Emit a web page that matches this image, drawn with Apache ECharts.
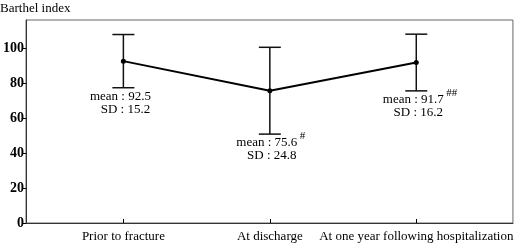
<!DOCTYPE html>
<html>
<head>
<meta charset="utf-8">
<script src="https://cdn.jsdelivr.net/npm/echarts@6/dist/echarts.min.js"></script>
<style>
html, body { margin: 0; padding: 0; background: #fff; }
#main { width: 516px; height: 244px; }
</style>
</head>
<body>
<div id="main"></div>
<script>
var categories = ['Prior to fracture', 'At discharge', 'At one year following hospitalization'];
var positions = [1, 2, 3];
var means = [92.5, 75.6, 91.7];
var sds = [15.2, 24.8, 16.2];
var marks = ['', '#', '##'];
var yTicks = [0, 20, 40, 60, 80, 100];

var dom = document.getElementById('main');
var myChart = echarts.init(dom);
var font = '"Liberation Serif", "DejaVu Serif", serif';

var barData = positions.map(function (p, i) {
  return [p, means[i], sds[i], i];
});

function renderBar(params, api) {
  var x = api.value(0), m = api.value(1), sd = api.value(2), i = api.value(3);
  var top = api.coord([x, m + sd]);
  var bot = api.coord([x, m - sd]);
  var half = 11;
  var stroke = { stroke: '#111', lineWidth: 1.5 };
  var kids = [
    { type: 'line', shape: { x1: top[0], y1: top[1], x2: bot[0], y2: bot[1] }, style: stroke },
    { type: 'line', shape: { x1: top[0] - half, y1: top[1], x2: top[0] + half, y2: top[1] }, style: stroke },
    { type: 'line', shape: { x1: bot[0] - half, y1: bot[1], x2: bot[0] + half, y2: bot[1] }, style: stroke },
    { type: 'text', x: bot[0] - 3, y: bot[1] + 2,
      style: { text: 'mean : ' + m.toFixed(1), font: '13px ' + font, fill: '#000', textAlign: 'center', textVerticalAlign: 'top' } },
    { type: 'text', x: bot[0] + 2, y: bot[1] + 15,
      style: { text: 'SD : ' + sd.toFixed(1), font: '13px ' + font, fill: '#000', textAlign: 'center', textVerticalAlign: 'top' } }
  ];
  if (marks[i]) {
    kids.push({ type: 'text', x: bot[0] + 30, y: bot[1] - 3,
      style: { text: marks[i], font: '11px ' + font, fill: '#000', textAlign: 'left', textVerticalAlign: 'top' } });
  }
  return { type: 'group', children: kids };
}

var option = {
  backgroundColor: '#fff',
  animation: false,
  title: {
    text: 'Barthel index', left: -5, top: -3,
    textStyle: { fontFamily: font, fontSize: 13, fontWeight: 'normal', color: '#000' }
  },
  grid: { left: 24, right: 2, top: 20, bottom: 21, show: true, borderColor: '#666', borderWidth: 1 },
  xAxis: {
    type: 'value', min: 0.335, max: 3.66,
    axisLine: { lineStyle: { color: '#333' } },
    splitLine: { show: false },
    axisTick: { inside: true, length: 4, customValues: positions, lineStyle: { color: '#000' } },
    axisLabel: {
      customValues: positions, margin: 7,
      fontFamily: font, fontSize: 13, color: '#000',
      formatter: function (v) { return categories[Math.round(v) - 1] || ''; }
    }
  },
  yAxis: {
    type: 'value', min: 0, max: 116,
    axisLine: { show: true, lineStyle: { color: '#333' } },
    splitLine: { show: false },
    axisTick: { length: 4, customValues: yTicks, lineStyle: { color: '#000' } },
    axisLabel: {
      customValues: yTicks, margin: 2,
      fontFamily: font, fontSize: 14, fontWeight: 'bold', color: '#000'
    }
  },
  series: [
    {
      type: 'line',
      data: positions.map(function (p, i) { return [p, means[i]]; }),
      symbol: 'circle', symbolSize: 5,
      itemStyle: { color: '#000' },
      lineStyle: { color: '#000', width: 2 },
      z: 3
    },
    {
      type: 'custom',
      data: barData,
      renderItem: renderBar,
      z: 2
    }
  ]
};

myChart.setOption(option);
</script>
</body>
</html>
